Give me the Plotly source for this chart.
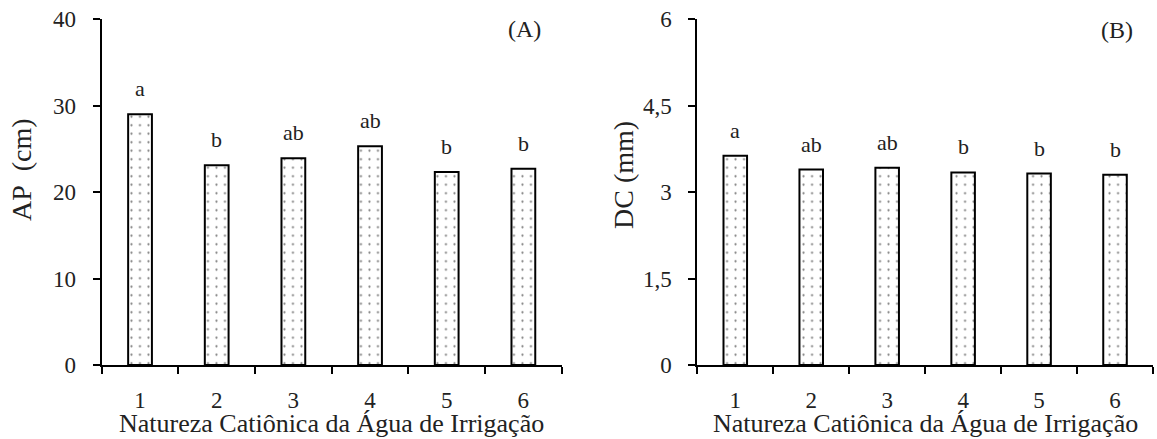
import plotly.graph_objects as go

W, H = 1157, 439

categories = ["1", "2", "3", "4", "5", "6"]
ap_values = [29.0, 23.1, 23.9, 25.3, 22.3, 22.7]
ap_letters = ["a", "b", "ab", "ab", "b", "b"]
dc_values = [3.63, 3.39, 3.42, 3.34, 3.32, 3.30]
dc_letters = ["a", "ab", "ab", "b", "b", "b"]
ap_ticks = [0, 10, 20, 30, 40]
ap_ticktext = ["0", "10", "20", "30", "40"]
dc_ticks = [0, 1.5, 3, 4.5, 6]
dc_ticktext = ["0", "1,5", "3", "4,5", "6"]
x_title = "Natureza Catiônica da Água de Irrigação"

FONT = "Liberation Serif"
TXT = "#222222"


def px(x):
    return x / W


def py(y):
    return 1 - y / H


bar_marker = dict(
    color="white",
    line=dict(color="black", width=2),
    pattern=dict(shape=".", fgcolor="black", bgcolor="white", size=8.5, solidity=0.05),
)

fig = go.Figure()
fig.add_trace(go.Bar(x=categories, y=ap_values, width=0.31, marker=bar_marker,
                     xaxis="x", yaxis="y", showlegend=False, hoverinfo="skip"))
fig.add_trace(go.Bar(x=categories, y=dc_values, width=0.31, marker=bar_marker,
                     xaxis="x2", yaxis="y2", showlegend=False, hoverinfo="skip"))

ydom = [py(365), py(19)]
common_x = dict(type="category", tickson="boundaries", ticks="outside", ticklen=7,
                tickwidth=2, tickcolor="black", showline=True, linewidth=2,
                linecolor="black", showgrid=False, zeroline=False, automargin=False,
                tickfont=dict(family=FONT, size=23, color=TXT),
                ticklabelstandoff=13, range=[-0.5, 5.5], fixedrange=True)
common_y = dict(ticks="outside", ticklen=7, tickwidth=2, tickcolor="black",
                showline=True, linewidth=2, linecolor="black", showgrid=False,
                zeroline=False, automargin=False, fixedrange=True,
                tickfont=dict(family=FONT, size=23, color=TXT),
                ticklabelstandoff=12, domain=ydom)

fig.update_layout(
    width=W, height=H,
    margin=dict(l=0, r=0, t=0, b=0),
    paper_bgcolor="white", plot_bgcolor="white",
    bargap=0.7,
    xaxis=dict(common_x, domain=[px(101.7), px(561.7)], anchor="y"),
    yaxis=dict(common_y, range=[0, 40], tickvals=ap_ticks, ticktext=ap_ticktext, anchor="x"),
    xaxis2=dict(common_x, domain=[px(697.3), px(1153)], anchor="y2"),
    yaxis2=dict(common_y, range=[0, 6], tickvals=dc_ticks, ticktext=dc_ticktext, anchor="x2"),
)

ann = []
for i, (v, l) in enumerate(zip(ap_values, ap_letters)):
    ann.append(dict(x=i, y=v, xref="x", yref="y", text=l, showarrow=False,
                    yanchor="bottom", yshift=11, font=dict(family=FONT, size=22, color=TXT)))
for i, (v, l) in enumerate(zip(dc_values, dc_letters)):
    ann.append(dict(x=i, y=v, xref="x2", yref="y2", text=l, showarrow=False,
                    yanchor="bottom", yshift=11, font=dict(family=FONT, size=22, color=TXT)))

# axis titles
ann.append(dict(x=px(331.7), y=py(423), xref="paper", yref="paper", text=x_title,
                showarrow=False, xanchor="center", yanchor="middle",
                font=dict(family=FONT, size=26, color=TXT)))
ann.append(dict(x=px(925), y=py(423), xref="paper", yref="paper", text=x_title,
                showarrow=False, xanchor="center", yanchor="middle",
                font=dict(family=FONT, size=26, color=TXT)))
ann.append(dict(x=px(21), y=py(170), xref="paper", yref="paper", text="AP\u00a0\u00a0(cm)",
                showarrow=False, textangle=-90, xanchor="center", yanchor="middle",
                font=dict(family=FONT, size=28, color=TXT)))
ann.append(dict(x=px(624), y=py(175), xref="paper", yref="paper", text="DC (mm)",
                showarrow=False, textangle=-90, xanchor="center", yanchor="middle",
                font=dict(family=FONT, size=28, color=TXT)))
ann.append(dict(x=px(524), y=py(29), xref="paper", yref="paper", text="(A)",
                showarrow=False, xanchor="center", yanchor="middle",
                font=dict(family=FONT, size=24, color=TXT)))
ann.append(dict(x=px(1117), y=py(30), xref="paper", yref="paper", text="(B)",
                showarrow=False, xanchor="center", yanchor="middle",
                font=dict(family=FONT, size=24, color=TXT)))

fig.update_layout(annotations=ann)
fig.write_html("out.html", config={"displayModeBar": False},
               post_script="document.body.style.margin='0';document.body.style.overflow='hidden';")
